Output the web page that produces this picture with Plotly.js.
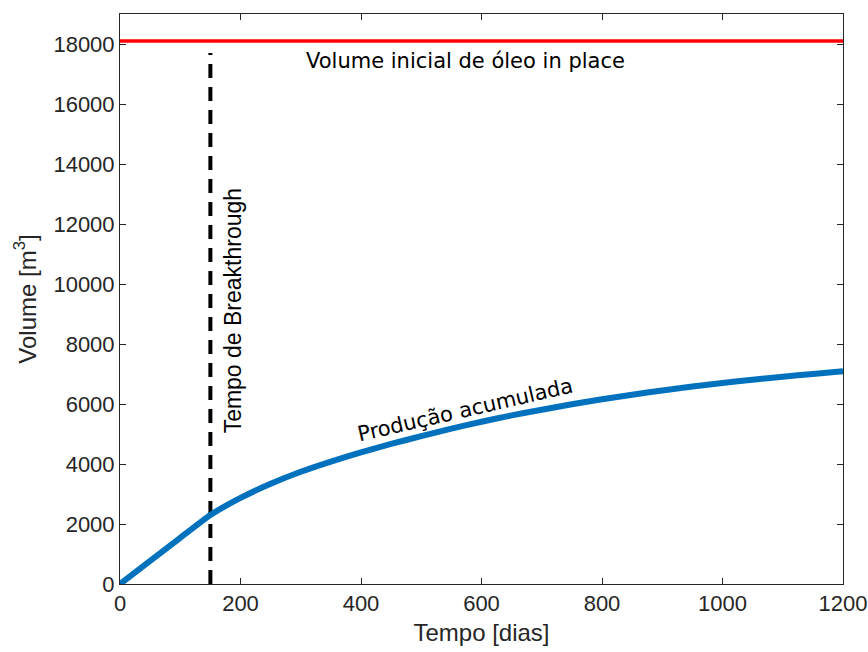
<!DOCTYPE html>
<html>
<head>
<meta charset="utf-8">
<script src="https://cdn.plot.ly/plotly-3.0.1.min.js"></script>
<style>
  html, body { margin: 0; padding: 0; background: #fff; }
  #chart { width: 868px; height: 652px; }
</style>
</head>
<body>
<div id="chart"></div>
<script>
// Cumulative oil production over time (days, m³)
const tempoDias = [0, 50, 100, 150, 200, 250, 300, 350, 400, 450, 500, 550, 600,
                   650, 700, 750, 800, 850, 900, 950, 1000, 1050, 1100, 1150, 1200];
const producaoAcumulada = [0, 770, 1540, 2300, 2870, 3340, 3740, 4080, 4390, 4670, 4930, 5180, 5410,
                           5620, 5810, 5990, 6160, 6310, 6450, 6580, 6700, 6810, 6910, 7000, 7090];

// Initial oil in place (horizontal reference)
const oipX = [0, 1200];
const oipY = [18100, 18100];

// Breakthrough time (vertical reference)
const btX = [150, 150];
const btY = [0, 17700];

const xTicks = [0, 200, 400, 600, 800, 1000, 1200];
const yTicks = [0, 2000, 4000, 6000, 8000, 10000, 12000, 14000, 16000, 18000];

const axisColor = '#262626';
const sans = 'Arial, Liberation Sans, sans-serif';
const tickFont = { family: sans, size: 22, color: axisColor };

const traces = [
  {
    x: oipX, y: oipY, mode: 'lines', type: 'scatter',
    line: { color: '#FF0000', width: 3.5 }, hoverinfo: 'skip'
  },
  {
    x: btX, y: btY, mode: 'lines', type: 'scatter',
    line: { color: '#000000', width: 4, dash: '14px,9px' }, hoverinfo: 'skip'
  },
  {
    x: tempoDias, y: producaoAcumulada, mode: 'lines', type: 'scatter',
    line: { color: '#0072BD', width: 6, shape: 'spline', smoothing: 0.5 }
  }
];

const layout = {
  width: 868, height: 652,
  margin: { l: 120, r: 25, t: 14, b: 68 },
  paper_bgcolor: '#ffffff', plot_bgcolor: '#ffffff',
  showlegend: false,
  xaxis: {
    range: [0, 1200], tickvals: xTicks, ticktext: xTicks.map(String),
    ticks: 'inside', ticklen: 6, tickcolor: axisColor, tickwidth: 1,
    showline: true, linecolor: axisColor, linewidth: 1, mirror: 'allticks',
    showgrid: false, zeroline: false, tickfont: tickFont,
    title: { text: 'Tempo [dias]', font: { family: sans, size: 24, color: axisColor }, standoff: 8 }
  },
  yaxis: {
    range: [0, 19000], tickvals: yTicks, ticktext: yTicks.map(String),
    ticks: 'inside', ticklen: 6, tickcolor: axisColor, tickwidth: 1,
    showline: true, linecolor: axisColor, linewidth: 1, mirror: 'allticks',
    showgrid: false, zeroline: false, tickfont: tickFont,
    title: { text: 'Volume [m<sup>3</sup>]', font: { family: sans, size: 24, color: axisColor }, standoff: 10 }
  },
  annotations: [
    {
      x: 573, y: 17450, xref: 'x', yref: 'y', showarrow: false,
      text: 'Volume inicial de óleo in place',
      font: { family: 'DejaVu Sans, Verdana, sans-serif', size: 21, color: '#000' }
    },
    {
      x: 188, y: 9130, xref: 'x', yref: 'y', showarrow: false, textangle: -90,
      text: 'Tempo de Breakthrough',
      font: { family: sans, size: 23, color: '#000' }
    },
    {
      x: 573, y: 5800, xref: 'x', yref: 'y', showarrow: false, textangle: -13,
      text: 'Produção acumulada',
      font: { family: 'DejaVu Sans, Verdana, sans-serif', size: 21, color: '#000' }
    }
  ]
};

Plotly.newPlot('chart', traces, layout, { displayModeBar: false, staticPlot: true });
</script>
</body>
</html>
